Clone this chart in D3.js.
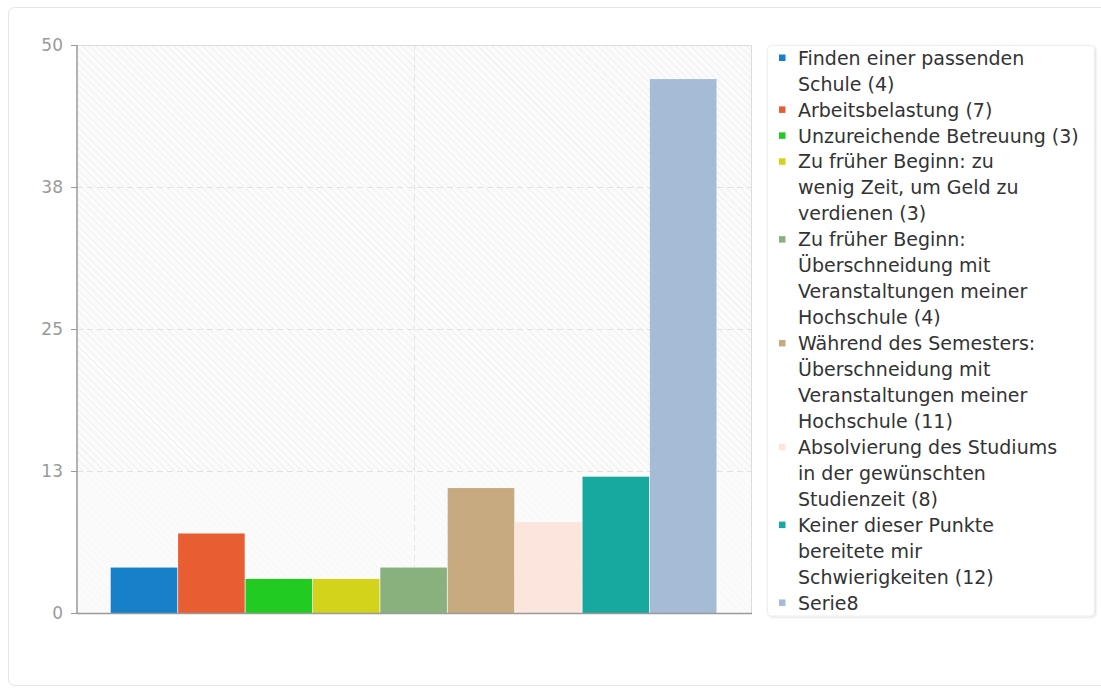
<!DOCTYPE html>
<html>
<head>
<meta charset="utf-8">
<script src="https://cdn.jsdelivr.net/npm/d3@7"></script>
<style>
  html, body { margin: 0; padding: 0; background: #fff; }
  body { width: 1101px; height: 689px; overflow: hidden; font-family: "DejaVu Sans", sans-serif; }
</style>
</head>
<body>
<div id="chart"></div>
<script>
// Data
const categories = [
    "Finden einer passenden Schule",
    "Arbeitsbelastung",
    "Unzureichende Betreuung",
    "Zu früher Beginn: zu wenig Zeit, um Geld zu verdienen",
    "Zu früher Beginn: Überschneidung mit Veranstaltungen meiner Hochschule",
    "Während des Semesters: Überschneidung mit Veranstaltungen meiner Hochschule",
    "Absolvierung des Studiums in der gewünschten Studienzeit",
    "Keiner dieser Punkte bereitete mir Schwierigkeiten",
    "Serie8"
];
const counts = [4, 7, 3, 3, 4, 11, 8, 12, null];
const values = [4, 7, 3, 3, 4, 11, 8, 12, 47];
const colors = ["#1681c9", "#e85e32", "#21cb21", "#d2d31a", "#88b17e",
                "#c8aa80", "#fbe5dc", "#17a8a0", "#a6bbd6"];
const yTicks = [0, 12.5, 25, 37.5, 50];
const yTickLabels = ["0", "13", "25", "38", "50"];

const width = 1101, height = 689;
const plot = { left: 77, right: 751, top: 45, bottom: 613 };

const svg = d3.select("#chart").append("svg")
    .attr("width", width)
    .attr("height", height);

const defs = svg.append("defs");

// Hatched plot background
const pat = defs.append("pattern")
    .attr("id", "hatch")
    .attr("patternUnits", "userSpaceOnUse")
    .attr("width", 5)
    .attr("height", 5)
    .attr("patternTransform", "rotate(-45)");
pat.append("rect").attr("width", 5).attr("height", 5).attr("fill", "#fbfbfb");
pat.append("line").attr("x1", 0).attr("y1", 0).attr("x2", 0).attr("y2", 5)
    .attr("stroke", "#f0f0f0").attr("stroke-width", 2);

const shadow = defs.append("filter").attr("id", "shadow")
    .attr("x", "-5%").attr("y", "-5%").attr("width", "110%").attr("height", "110%");
shadow.append("feDropShadow").attr("dx", 1).attr("dy", 1).attr("stdDeviation", 1.2)
    .attr("flood-color", "#000").attr("flood-opacity", 0.12);

// Outer card
svg.append("rect")
    .attr("x", 8.5).attr("y", 7.5)
    .attr("width", 1100).attr("height", 678)
    .attr("rx", 6)
    .attr("fill", "#fff")
    .attr("stroke", "#e6e6e6");

// Scales
const x = d3.scaleBand()
    .domain(d3.range(categories.length))
    .range([plot.left, plot.right])
    .paddingOuter(0.5)
    .paddingInner(0);

const y = d3.scaleLinear()
    .domain([0, 50])
    .range([plot.bottom, plot.top]);

// Plot background
svg.append("rect")
    .attr("x", plot.left).attr("y", plot.top)
    .attr("width", plot.right - plot.left)
    .attr("height", plot.bottom - plot.top)
    .attr("fill", "url(#hatch)");

// lower band looks a touch lighter
svg.append("rect")
    .attr("x", plot.left).attr("y", y(12.5))
    .attr("width", plot.right - plot.left)
    .attr("height", plot.bottom - y(12.5))
    .attr("fill", "#fcfcfc")
    .attr("opacity", 0.6);

// Grid lines
const grid = svg.append("g");
grid.selectAll("line.h")
    .data(yTicks.filter(d => d > 0 && d < 50))
    .enter().append("line")
    .attr("x1", plot.left).attr("x2", plot.right)
    .attr("y1", d => Math.round(y(d)) + 0.5)
    .attr("y2", d => Math.round(y(d)) + 0.5)
    .attr("stroke", "#e2e2e2")
    .attr("stroke-dasharray", "6,4");
grid.append("line")
    .attr("x1", (plot.left + plot.right) / 2 + 0.5)
    .attr("x2", (plot.left + plot.right) / 2 + 0.5)
    .attr("y1", plot.top).attr("y2", plot.bottom)
    .attr("stroke", "#e6e6e6")
    .attr("stroke-dasharray", "6,4");

// Top / right frame
svg.append("path")
    .attr("d", `M${plot.left},${plot.top + 0.5}H${plot.right + 0.5}V${plot.bottom}`)
    .attr("fill", "none")
    .attr("stroke", "#dcdcdc");

// Bars
svg.append("g")
    .selectAll("rect")
    .data(values)
    .enter().append("rect")
    .attr("x", (d, i) => x(i))
    .attr("y", d => y(d))
    .attr("width", x.bandwidth() - 0.8)
    .attr("height", d => y(0) - y(d))
    .attr("fill", (d, i) => colors[i]);

// Y axis
const yAxis = d3.axisLeft(y)
    .tickValues(yTicks)
    .tickFormat((d, i) => yTickLabels[i])
    .tickSize(6)
    .tickPadding(8);

const gy = svg.append("g")
    .attr("transform", `translate(${plot.left},0)`)
    .call(yAxis);
gy.select(".domain").attr("stroke", "#9a9a9a").attr("stroke-width", 1.5)
    .attr("d", `M0,${plot.top}V${plot.bottom}`);
gy.selectAll(".tick line").attr("stroke", "#9a9a9a");
gy.selectAll(".tick text")
    .attr("fill", "#9a9a9a")
    .style("font-family", "DejaVu Sans, sans-serif")
    .style("font-size", "17px");

// X axis line
svg.append("line")
    .attr("x1", plot.left).attr("x2", plot.right + 1)
    .attr("y1", plot.bottom + 0.5).attr("y2", plot.bottom + 0.5)
    .attr("stroke", "#9a9a9a")
    .attr("stroke-width", 1.5);

// Legend
const legendBox = { x: 767.5, y: 45.5, w: 1094.5 - 767.5, h: 616 - 45.5 };
svg.append("rect")
    .attr("x", legendBox.x).attr("y", legendBox.y)
    .attr("width", legendBox.w).attr("height", legendBox.h)
    .attr("rx", 4)
    .attr("fill", "#fff")
    .attr("stroke", "#eeeeee")
    .attr("filter", "url(#shadow)");

// wrap label words to lines of at most 25 chars, then add count
function wrapLabel(label, count) {
    const words = label.split(" ");
    const lines = [];
    let cur = "";
    words.forEach(w => {
        const test = cur ? cur + " " + w : w;
        if (test.length > 25 && cur) {
            lines.push(cur);
            cur = w;
        } else {
            cur = test;
        }
    });
    lines.push(cur);
    if (count !== null) lines[lines.length - 1] += " (" + count + ")";
    return lines;
}

const lineH = 25.95;
let lineIdx = 0;
const legend = svg.append("g");
categories.forEach((c, i) => {
    const lines = wrapLabel(c, counts[i]);
    const y0 = 58 + lineIdx * lineH;
    legend.append("rect")
        .attr("x", 779)
        .attr("y", y0 - 3.5)
        .attr("width", 6.5).attr("height", 6.5)
        .attr("fill", colors[i]);
    const t = legend.append("text")
        .attr("x", 798)
        .attr("y", y0)
        .attr("fill", "#333")
        .style("font-family", "DejaVu Sans, sans-serif")
        .style("font-size", "19px");
    lines.forEach((l, j) => {
        t.append("tspan")
            .attr("x", 798)
            .attr("y", y0 + j * lineH)
            .attr("dy", "0.35em")
            .text(l);
    });
    lineIdx += lines.length;
});
</script>
</body>
</html>
